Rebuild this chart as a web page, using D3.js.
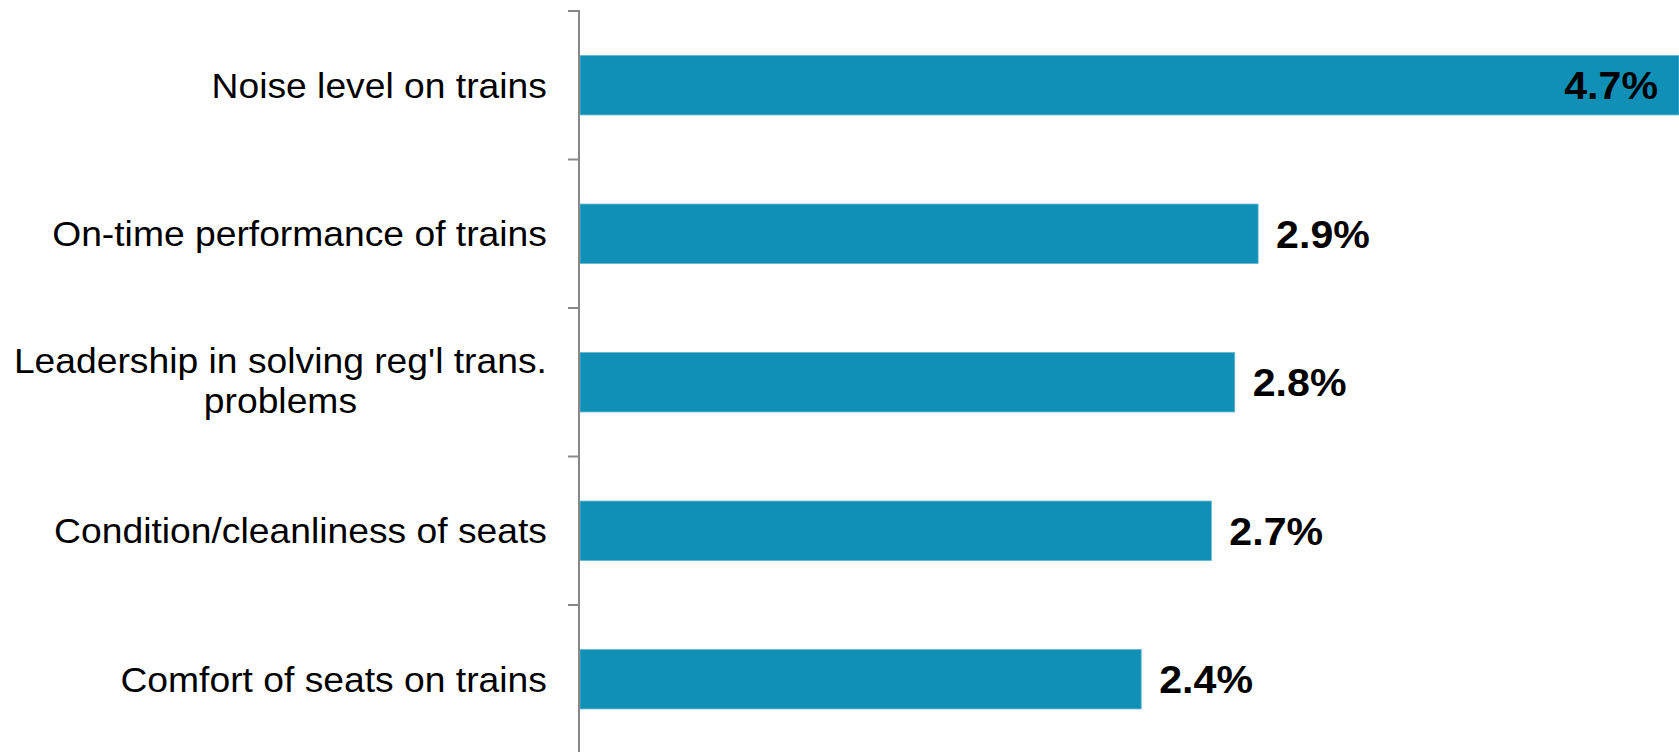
<!DOCTYPE html>
<html>
<head>
<meta charset="utf-8">
<script src="https://cdn.jsdelivr.net/npm/d3@7"></script>
<style>
  html, body { margin: 0; padding: 0; background: #ffffff; }
  svg { display: block; }
  text { font-family: "Liberation Sans", Arial, sans-serif; }
</style>
</head>
<body>
<svg id="chart" width="1679" height="752"></svg>
<script>
const categories = [
  ["Noise level on trains"],
  ["On-time performance of trains"],
  ["Leadership in solving reg'l trans.", "problems"],
  ["Condition/cleanliness of seats"],
  ["Comfort of seats on trains"]
];
const values = [4.7, 2.9, 2.8, 2.7, 2.4];
const valueLabels = ["4.7%", "2.9%", "2.8%", "2.7%", "2.4%"];

const W = 1679, H = 752;
const axisX = 580;
const svg = d3.select("#chart");

const keys = categories.map((c, i) => i);
const y = d3.scaleBand().domain(keys).range([11, 753.5]).paddingInner(0.6).paddingOuter(0.3);
const x = d3.scaleLinear().domain([0, 4.7]).range([axisX, 1679]);

const barColor = "#1190B7";

// bars
svg.selectAll("rect.bar").data(values).join("rect")
  .attr("class", "bar")
  .attr("x", x(0))
  .attr("y", (d, i) => y(i))
  .attr("width", d => x(d) - x(0))
  .attr("height", y.bandwidth())
  .attr("fill", barColor)
  .attr("stroke", "#5fb4cf")
  .attr("stroke-width", 0.8);

// value labels
const vsx = 1.055;
svg.selectAll("text.val").data(values).join("text")
  .attr("class", "val")
  .attr("transform", (d, i) => {
    const tx = i === 0 ? x(d) - 21 : x(d) + 18;
    const ty = y(i) + y.bandwidth() / 2;
    return `translate(${tx},${ty}) scale(${vsx},1)`;
  })
  .attr("dy", "0.36em")
  .attr("text-anchor", (d, i) => i === 0 ? "end" : "start")
  .attr("font-size", 39)
  .attr("font-weight", "bold")
  .attr("fill", "#000")
  .text((d, i) => valueLabels[i]);

// axis line and ticks at band boundaries
const step = y.step();
svg.append("line")
  .attr("x1", axisX - 1).attr("x2", axisX - 1)
  .attr("y1", 11).attr("y2", H)
  .attr("stroke", "#888").attr("stroke-width", 2);
svg.append("g").selectAll("line").data(keys).join("line")
  .attr("x1", axisX - 12).attr("x2", axisX)
  .attr("y1", k => y(k) - step * y.paddingOuter())
  .attr("y2", k => y(k) - step * y.paddingOuter())
  .attr("stroke", "#888").attr("stroke-width", 2);

// category labels
const csx = 1.035;
const labelG = svg.append("g");
categories.forEach((lines, i) => {
  const cy = y(i) + y.bandwidth() / 2;
  const lh = 40;
  const t = labelG.append("text")
    .attr("font-size", 36)
    .attr("fill", "#000")
    .attr("text-anchor", "middle");
  const n = lines.length;
  lines.forEach((ln, j) => {
    t.append("tspan")
      .attr("x", 0)
      .attr("y", cy + (j - (n - 1) / 2) * lh - 1.5 * (n - 1))
      .attr("dy", "0.35em")
      .text(ln);
  });
  const bb = t.node().getBBox();
  const right = 547;
  t.attr("transform", `translate(${right - bb.width * csx / 2},0) scale(${csx},1)`);
});
</script>
</body>
</html>
